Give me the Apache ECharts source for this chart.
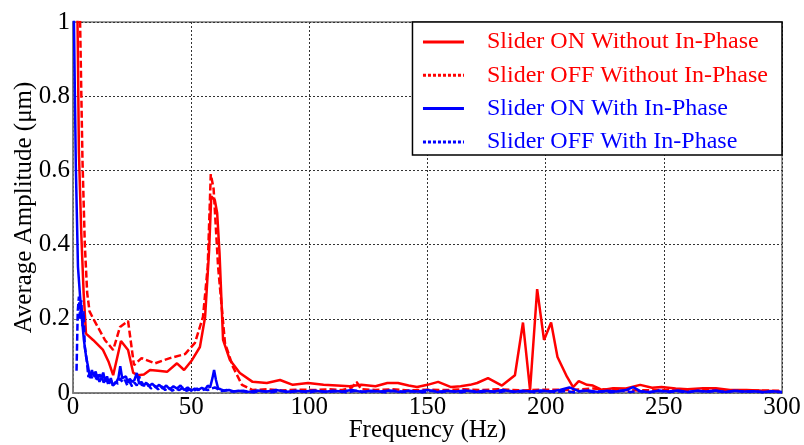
<!DOCTYPE html>
<html>
<head>
<meta charset="utf-8">
<script src="https://cdn.jsdelivr.net/npm/echarts@6/dist/echarts.min.js"></script>
<style>html,body{margin:0;padding:0;background:#fff}#c{width:804px;height:445px}</style>
</head>
<body>
<div id="c"></div>
<script>
var xTicks = [0, 50, 100, 150, 200, 250, 300];
var seriesNames = ['Slider ON Without In-Phase', 'Slider OFF Without In-Phase', 'Slider ON With In-Phase', 'Slider OFF With In-Phase'];

var onWithoutHz = [1, 2, 2.5, 3.5, 4.5, 5.5, 8.5, 12.7, 15, 17, 20.3, 23.3, 25.5, 27.6, 30, 32.6, 36, 39.8, 44, 47, 50.4, 53.7, 55.9, 57.6, 58.5, 60, 61, 62, 63.5, 66.4, 70.6, 76, 82, 87.6, 93, 99.5, 106, 111.7, 117, 122, 128, 133, 137.5, 142, 145.6, 150, 154.5, 160, 164, 168, 171, 175.6, 181.5, 187, 190.4, 193.4, 196.4, 199.3, 202.3, 205, 209, 211.6, 214, 217.5, 220, 224, 228.5, 234, 240, 245, 249, 255, 260, 266.6, 272, 278, 285, 292, 299];
var onWithoutAmp = [1.5, 0.95, 0.65, 0.43, 0.27, 0.16, 0.143, 0.116, 0.085, 0.048, 0.14, 0.116, 0.054, 0.048, 0.05, 0.062, 0.06, 0.057, 0.08, 0.062, 0.089, 0.124, 0.205, 0.385, 0.53, 0.52, 0.485, 0.377, 0.143, 0.089, 0.054, 0.03, 0.027, 0.035, 0.022, 0.027, 0.022, 0.02, 0.018, 0.022, 0.018, 0.027, 0.027, 0.02, 0.016, 0.022, 0.03, 0.016, 0.018, 0.022, 0.027, 0.04, 0.02, 0.048, 0.19, 0.008, 0.28, 0.143, 0.19, 0.097, 0.044, 0.016, 0.032, 0.022, 0.02, 0.008, 0.013, 0.012, 0.022, 0.014, 0.016, 0.012, 0.01, 0.013, 0.013, 0.008, 0.008, 0.006, 0.005];

var offWithoutHz = [2.5, 3, 4, 5, 6, 7, 8.6, 13.5, 17, 19.9, 23.3, 25.8, 29, 34.7, 41, 47.4, 51.6, 55, 57, 58.3, 59.5, 61.4, 64.3, 67.7, 71.5, 76, 82, 88, 95, 102, 108, 114, 118, 120, 122, 128, 135, 142, 150, 158, 165, 172, 180, 190, 200, 210, 220, 230, 240, 250, 260, 270, 280, 290, 299];
var offWithoutAmp = [1.3, 1.0, 0.63, 0.4, 0.27, 0.22, 0.2, 0.143, 0.116, 0.178, 0.194, 0.075, 0.094, 0.08, 0.094, 0.105, 0.135, 0.205, 0.34, 0.59, 0.55, 0.34, 0.135, 0.07, 0.022, 0.008, 0.01, 0.007, 0.009, 0.008, 0.01, 0.008, 0.015, 0.03, 0.01, 0.008, 0.01, 0.007, 0.009, 0.008, 0.01, 0.008, 0.01, 0.007, 0.009, 0.008, 0.012, 0.008, 0.007, 0.008, 0.006, 0.008, 0.006, 0.007, 0.006];

var onWithHz = [0, 0.4, 1.2, 2.1, 3, 3.8, 4.6, 5.5, 6.4, 7.2, 8, 8.8, 9.6, 10.4, 11.2, 12, 12.8, 13.6, 14.4, 15.2, 16, 16.8, 17.6, 18.4, 19.2, 20, 20.8, 21.6, 22.4, 23.2, 24, 25, 26, 27, 28, 29, 30, 31, 32, 33.5, 35, 36.5, 38, 39.5, 41, 42.5, 44, 45.5, 47, 48.5, 50, 51.5, 53, 54.5, 56, 57, 58, 59, 59.7, 60.5, 61.4, 62.5, 64, 66, 68, 70, 74, 78, 82, 86, 90, 94, 98, 102, 106, 110, 114, 118, 122, 126, 130, 134, 138, 142, 146, 150, 154, 158, 162, 166, 170, 174, 178, 182, 186, 190, 194, 198, 202, 206, 210, 214, 218, 222, 226, 230, 234, 237, 240, 244, 248, 252, 256, 260, 264, 268, 272, 276, 280, 284, 288, 292, 296, 300];
var onWithAmp = [1.2, 1.0, 0.61, 0.34, 0.26, 0.2, 0.143, 0.1, 0.07, 0.04, 0.062, 0.045, 0.058, 0.035, 0.05, 0.042, 0.055, 0.03, 0.045, 0.025, 0.04, 0.02, 0.016, 0.03, 0.04, 0.072, 0.04, 0.035, 0.045, 0.028, 0.038, 0.03, 0.035, 0.054, 0.025, 0.03, 0.02, 0.028, 0.018, 0.025, 0.015, 0.022, 0.012, 0.02, 0.01, 0.018, 0.012, 0.02, 0.008, 0.015, 0.006, 0.012, 0.008, 0.014, 0.01, 0.02, 0.015, 0.04, 0.062, 0.035, 0.012, 0.01, 0.006, 0.008, 0.004, 0.006, 0.003, 0.007, 0.004, 0.008, 0.003, 0.006, 0.004, 0.007, 0.003, 0.006, 0.004, 0.008, 0.003, 0.006, 0.004, 0.007, 0.003, 0.006, 0.004, 0.008, 0.003, 0.006, 0.004, 0.007, 0.003, 0.006, 0.004, 0.008, 0.003, 0.006, 0.004, 0.007, 0.004, 0.008, 0.015, 0.005, 0.007, 0.003, 0.006, 0.004, 0.008, 0.016, 0.005, 0.003, 0.006, 0.004, 0.007, 0.003, 0.006, 0.004, 0.007, 0.003, 0.006, 0.004, 0.005, 0.003, 0.005, 0.003];

var offWithHz = [1.5, 2, 2.5, 3, 3.5, 4, 4.5, 5, 5.8, 6.5, 7.2, 8, 8.8, 9.6, 10.4, 11.2, 12, 13, 14, 15, 16, 17, 18, 19, 20, 21, 22, 23, 24, 25, 26, 27, 28, 29, 30, 31.5, 33, 34.5, 36, 37.5, 39, 40.5, 42, 43.5, 45, 46.5, 48, 49.5, 51, 52.5, 54, 55.5, 57, 58.5, 60, 61.5, 63, 65, 67, 72, 76, 80, 84, 88, 92, 96, 100, 104, 108, 112, 116, 120, 124, 128, 132, 136, 140, 144, 148, 152, 156, 160, 164, 168, 172, 176, 180, 184, 188, 192, 196, 200, 204, 208, 212, 216, 220, 224, 228, 232, 236, 240, 244, 248, 252, 256, 260, 264, 268, 272, 276, 280, 284, 288, 292, 296, 300];
var offWithAmp = [0.06, 0.22, 0.26, 0.2, 0.25, 0.18, 0.22, 0.124, 0.089, 0.043, 0.06, 0.04, 0.055, 0.035, 0.05, 0.03, 0.045, 0.028, 0.04, 0.022, 0.035, 0.02, 0.03, 0.025, 0.04, 0.028, 0.035, 0.02, 0.03, 0.018, 0.028, 0.02, 0.045, 0.022, 0.02, 0.025, 0.012, 0.02, 0.01, 0.018, 0.008, 0.015, 0.006, 0.012, 0.008, 0.014, 0.006, 0.01, 0.005, 0.012, 0.006, 0.01, 0.008, 0.012, 0.015, 0.01, 0.005, 0.008, 0.004, 0.006, 0.002, 0.005, 0.002, 0.006, 0.003, 0.005, 0.002, 0.006, 0.003, 0.005, 0.002, 0.006, 0.003, 0.005, 0.002, 0.006, 0.003, 0.005, 0.002, 0.006, 0.003, 0.005, 0.002, 0.006, 0.003, 0.005, 0.002, 0.006, 0.003, 0.005, 0.002, 0.006, 0.003, 0.005, 0.002, 0.006, 0.003, 0.005, 0.002, 0.006, 0.003, 0.005, 0.002, 0.006, 0.003, 0.005, 0.002, 0.006, 0.003, 0.005, 0.002, 0.006, 0.003, 0.005, 0.002, 0.004, 0.002];

function zip(xs, ys) { return xs.map(function (x, i) { return [x, ys[i]]; }); }

var FONT = 'Liberation Serif';
var chart = echarts.init(document.getElementById('c'), null, { renderer: 'canvas' });

function mk(name, xs, ys, color, dashed) {
  return {
    name: name, type: 'line', data: zip(xs, ys), symbol: 'none', showSymbol: false,
    clip: true, animation: false,
    lineStyle: { color: color, width: 2.5, type: dashed ? [7, 3] : 'solid' },
    itemStyle: { color: color }
  };
}

chart.setOption({
  animation: false,
  backgroundColor: '#fff',
  grid: { left: 73, right: 22, top: 22, bottom: 52, show: true, borderColor: '#7a7a7a', borderWidth: 1.5, backgroundColor: 'transparent', containLabel: false, outerBoundsMode: 'none' },
  xAxis: {
    type: 'value', min: 0, max: 300, interval: 50,
    name: 'Frequency (Hz)', nameLocation: 'middle', nameGap: 25, nameMoveOverlap: false,
    nameTextStyle: { fontFamily: FONT, fontSize: 25, color: '#000' },
    axisLine: { show: true, lineStyle: { color: '#7a7a7a', width: 1.5 } },
    axisTick: { show: true, inside: true, length: 5, lineStyle: { color: '#7a7a7a' } },
    axisLabel: { fontFamily: FONT, fontSize: 25, color: '#000', margin: 2,
      formatter: function (v) { return xTicks.indexOf(v) >= 0 ? String(v) : ''; } },
    splitLine: { show: true, lineStyle: { color: '#333', width: 1, type: [2, 2] } }
  },
  yAxis: {
    type: 'value', min: 0, max: 1, interval: 0.2,
    name: 'Average Amplitude (\u03bcm)', nameLocation: 'middle', nameGap: 36, nameMoveOverlap: false,
    nameTextStyle: { fontFamily: FONT, fontSize: 25, color: '#000' },
    axisLine: { show: true, lineStyle: { color: '#7a7a7a', width: 1.5 } },
    axisTick: { show: true, inside: true, length: 5, lineStyle: { color: '#7a7a7a' } },
    axisLabel: { fontFamily: FONT, fontSize: 25, color: '#000', margin: 3 },
    splitLine: { show: true, lineStyle: { color: '#333', width: 1, type: [2, 2] } }
  },
  legend: {
    orient: 'vertical', right: 22, top: 22,
    backgroundColor: '#fff', borderColor: '#000', borderWidth: 1.5, borderRadius: 0,
    padding: [8, 14, 1, 9],
    itemWidth: 41, itemHeight: 14, itemGap: 9.3,
    itemStyle: { opacity: 0 },
    textStyle: { fontFamily: FONT, fontSize: 24, lineHeight: 24, padding: [0, 0, 0, 18] },
    data: [
      { name: seriesNames[0], textStyle: { color: '#ff0000' }, lineStyle: { type: 'solid', width: 3 } },
      { name: seriesNames[1], textStyle: { color: '#ff0000' }, lineStyle: { type: [3, 2], width: 3 } },
      { name: seriesNames[2], textStyle: { color: '#0000ff' }, lineStyle: { type: 'solid', width: 3 } },
      { name: seriesNames[3], textStyle: { color: '#0000ff' }, lineStyle: { type: [3, 2], width: 3 } }
    ]
  },
  series: [
    mk(seriesNames[0], onWithoutHz, onWithoutAmp, '#ff0000', false),
    mk(seriesNames[1], offWithoutHz, offWithoutAmp, '#ff0000', true),
    mk(seriesNames[2], onWithHz, onWithAmp, '#0000ff', false),
    mk(seriesNames[3], offWithHz, offWithAmp, '#0000ff', true)
  ]
});
</script>
</body>
</html>
